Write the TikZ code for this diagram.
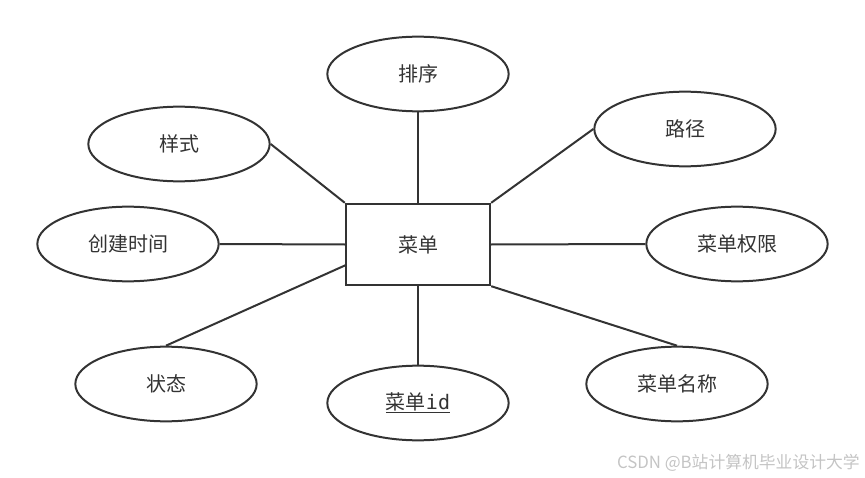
\documentclass[tikz,border=0pt]{standalone}
\usepackage{fontspec}
\setmainfont{Noto Sans CJK SC}
\newfontfamily\cjk{Noto Sans CJK SC}
\setmonofont{DejaVu Sans Mono}
\usetikzlibrary{shapes.geometric}
\definecolor{edgec}{HTML}{333333}
\definecolor{textc}{HTML}{333333}
\definecolor{wmc}{HTML}{C4C4C4}
\begin{document}
\begin{tikzpicture}[x=0.75pt,y=-0.75pt,
  attr/.style={ellipse,draw=edgec,line width=1.5pt,minimum width=136pt,minimum height=56pt,inner sep=0pt,font=\cjk\fontsize{15}{18}\selectfont,text=textc},
  ent/.style={rectangle,draw=edgec,line width=1.8pt,minimum width=108pt,minimum height=60.75pt,inner sep=0pt,font=\cjk\fontsize{15}{18}\selectfont,text=textc},
  link/.style={draw=edgec,line width=1.5pt}]
\useasboundingbox (0,0) rectangle (865,478);
\node[ent] (m) at (418,244.5) {菜单};
\node[attr] (px) at (418,74) {排序};
\node[attr] (ys) at (179,144) {样式};
\node[attr] (lj) at (685,129) {路径};
\node[attr] (cj) at (128,244) {创建时间};
\node[attr] (qx) at (737,244) {菜单权限};
\node[attr] (zt) at (166,384) {状态};
\node[attr] (id) at (418,403) {\underline{菜单\texttt{id}}};
\node[attr] (mc) at (677,384) {菜单名称};
\coordinate (mzt) at (346,265);
\draw[link] (px.south) -- (m.north);
\draw[link] (ys.east) -- (m.north west);
\draw[link] (lj.west) -- (m.north east);
\draw[link] (cj.east) -- (m.west);
\draw[link] (m.east) -- (qx.west);
\draw[link] (zt.north) -- (mzt);
\draw[link] (m.south) -- (id.north);
\draw[link] (m.south east) -- (mc.north);
\node[anchor=east,text=wmc,font=\cjk\fontsize{12.6}{14}\selectfont,inner sep=0pt] (wm) at (860,463) {CSDN @B站计算机毕业设计大学};
\end{tikzpicture}
\end{document}
